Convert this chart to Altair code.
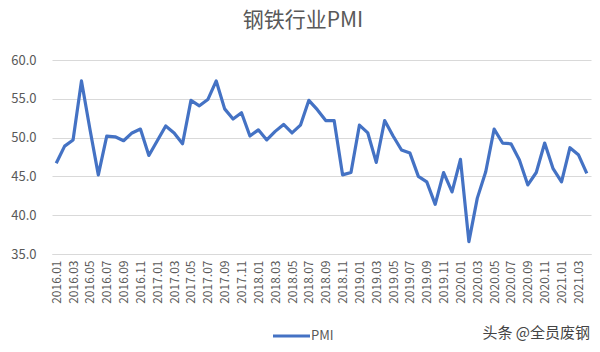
import altair as alt
import pandas as pd

months = [
    "2016.01","2016.02","2016.03","2016.04","2016.05","2016.06","2016.07","2016.08","2016.09","2016.10","2016.11","2016.12",
    "2017.01","2017.02","2017.03","2017.04","2017.05","2017.06","2017.07","2017.08","2017.09","2017.10","2017.11","2017.12",
    "2018.01","2018.02","2018.03","2018.04","2018.05","2018.06","2018.07","2018.08","2018.09","2018.10","2018.11","2018.12",
    "2019.01","2019.02","2019.03","2019.04","2019.05","2019.06","2019.07","2019.08","2019.09","2019.10","2019.11","2019.12",
    "2020.01","2020.02","2020.03","2020.04","2020.05","2020.06","2020.07","2020.08","2020.09","2020.10","2020.11","2020.12",
    "2021.01","2021.02","2021.03","2021.04",
]
pmi = [
    46.7, 48.9, 49.7, 57.3, 51.1, 45.2, 50.2, 50.1, 49.6, 50.6, 51.1, 47.7,
    49.6, 51.5, 50.6, 49.2, 54.8, 54.1, 54.9, 57.3, 53.7, 52.4, 53.2, 50.2,
    51.0, 49.7, 50.8, 51.7, 50.6, 51.6, 54.8, 53.6, 52.2, 52.2, 45.2, 45.5,
    51.6, 50.6, 46.8, 52.2, 50.2, 48.4, 48.0, 45.0, 44.3, 41.4, 45.5, 43.0,
    47.2, 36.6, 42.2, 45.6, 51.1, 49.3, 49.2, 47.1, 43.9, 45.5, 49.3, 46.0,
    44.3, 48.7, 47.8, 45.4,
]
tick_labels = months[::2]
y_ticks = [35, 40, 45, 50, 55, 60]

title_text = "钢铁行业PMI"
legend_text = "PMI"
watermark_text = "头条 @全员废钢"

df = pd.DataFrame({"month": months, "PMI": pmi})

FONT = "Noto Sans CJK SC"
BLUE = "#4472C4"
GREY = "#595959"

W, H = 539, 194

line = alt.Chart(df).mark_line(color=BLUE, strokeWidth=3.2, strokeJoin="round").encode(
    x=alt.X(
        "month:O",
        sort=months,
        scale=alt.Scale(padding=0.5),
        axis=alt.Axis(
            title=None,
            values=tick_labels,
            labelAngle=-90,
            labelAlign="right",
            labelBaseline="middle",
            labelFont=FONT,
            labelFontSize=12,
            labelColor=GREY,
            labelPadding=6,
            ticks=False,
            domain=True,
            domainColor="#d9d9d9",
            grid=False,
        ),
    ),
    y=alt.Y(
        "PMI:Q",
        scale=alt.Scale(domain=[35, 60], nice=False, zero=False),
        axis=alt.Axis(
            title=None,
            values=y_ticks,
            format=".1f",
            labelFont=FONT,
            labelFontSize=13,
            labelColor=GREY,
            labelPadding=16,
            ticks=False,
            domain=False,
            grid=True,
            gridColor="#d9d9d9",
            gridWidth=1,
        ),
    ),
)

title = alt.Chart(pd.DataFrame({"t": [title_text]})).mark_text(
    font=FONT, fontSize=21, color=GREY, align="center", baseline="middle"
).encode(text="t:N", x=alt.value(303 - 52), y=alt.value(21 - 60))

legend_line = alt.Chart(pd.DataFrame({"a": [0]})).mark_rule(color=BLUE, strokeWidth=3).encode(
    x=alt.value(273 - 52), x2=alt.value(310 - 52), y=alt.value(336 - 60)
)
legend_label = alt.Chart(pd.DataFrame({"t": [legend_text]})).mark_text(
    font=FONT, fontSize=13, color=GREY, align="left", baseline="middle"
).encode(text="t:N", x=alt.value(311 - 52), y=alt.value(336 - 60))

watermark = alt.Chart(pd.DataFrame({"t": [watermark_text]})).mark_text(
    font=FONT, fontSize=15, color="#444444", align="right", baseline="middle"
).encode(text="t:N", x=alt.value(590 - 52), y=alt.value(333 - 60))

chart = alt.layer(line, title, legend_line, legend_label, watermark).properties(
    width=W,
    height=H,
    autosize=alt.AutoSizeParams(type="none"),
    padding={"left": 52, "top": 60, "right": 9, "bottom": 98},
    background="white",
).configure_view(stroke=None)

chart.save("out.html", embed_options={"renderer": "svg", "actions": False})
